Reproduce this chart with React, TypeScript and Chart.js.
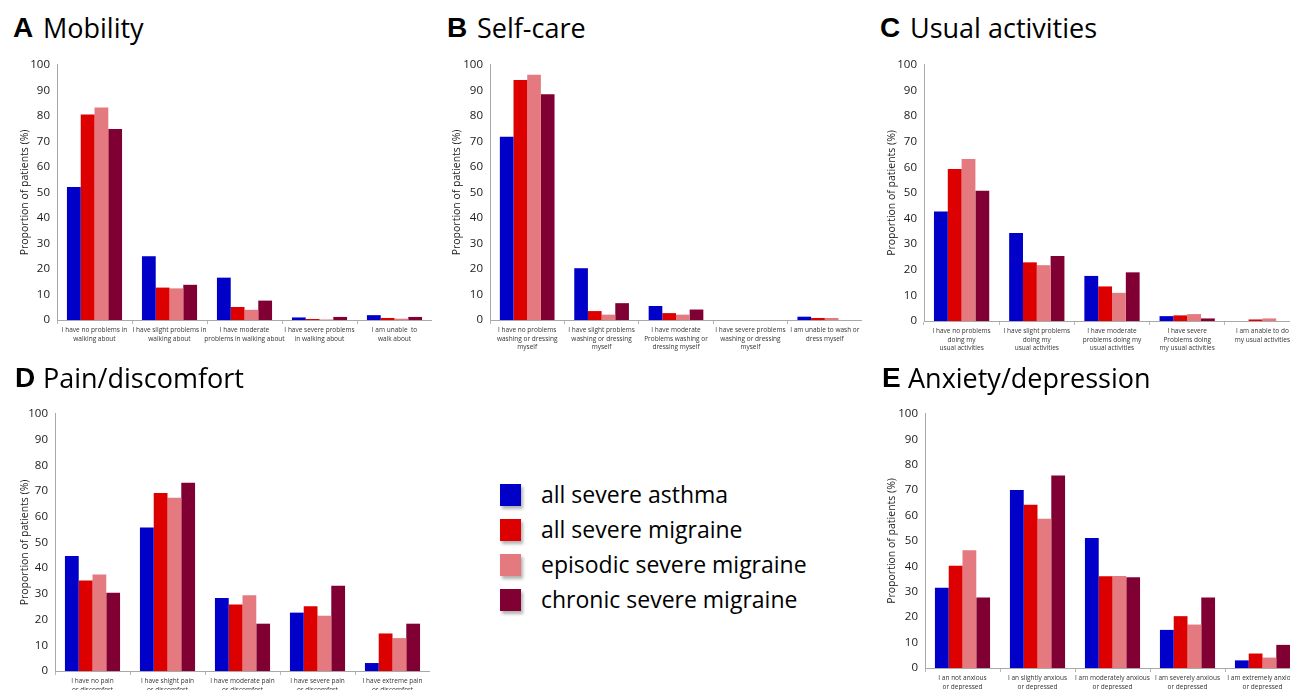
import React, { useEffect, useRef } from "react";
import { Chart, registerables } from "chart.js";

Chart.register(...registerables);
Chart.defaults.font.family = "'Open Sans', sans-serif";

// ---- Series ----
const seriesNames = [
  "all severe asthma",
  "all severe migraine",
  "episodic severe migraine",
  "chronic severe migraine",
];
const seriesColors = ["#0000C8", "#DC0000", "#E47A80", "#800033"];

// ---- A Mobility ----
const mobilityLabels = [
  ["I have no problems in", "walking about"],
  ["I have slight problems in", "walking about"],
  ["I have moderate", "problems in walking about"],
  ["I have severe problems", "in walking about"],
  ["I am unable  to", "walk about"],
];
const mobilityAsthma = [52.1, 25.0, 16.6, 1.0, 1.9];
const mobilityAllMigraine = [80.6, 12.7, 5.1, 0.4, 0.8];
const mobilityEpisodic = [83.3, 12.4, 4.0, 0.2, 0.5];
const mobilityChronic = [74.9, 13.8, 7.6, 1.2, 1.2];

// ---- B Self-care ----
const selfCareLabels = [
  ["I have no problems", "washing or dressing", "myself"],
  ["I have slight problems", "washing or dressing", "myself"],
  ["I have moderate", "Problems washing or", "dressing myself"],
  ["I have severe problems", "washing or dressing", "myself"],
  ["I am unable to wash or", "dress myself"],
];
const selfCareAsthma = [71.8, 20.3, 5.5, 0, 1.3];
const selfCareAllMigraine = [94.1, 3.5, 2.7, 0, 0.8];
const selfCareEpisodic = [96.1, 2.1, 2.1, 0, 0.8];
const selfCareChronic = [88.5, 6.6, 4.1, 0, 0];

// ---- C Usual activities ----
const usualLabels = [
  ["I have no problems", "doing my", "usual activities"],
  ["I have slight problems", "doing my", "usual activities"],
  ["I have moderate", "problems doing my", "usual activities"],
  ["I have severe", "Problems doing", "my usual activities"],
  ["I am anable to do", "my usual activities"],
];
const usualAsthma = [42.8, 34.4, 17.6, 1.9, 0];
const usualAllMigraine = [59.4, 22.9, 13.5, 2.2, 0.6];
const usualEpisodic = [63.3, 21.8, 11.0, 2.7, 1.0];
const usualChronic = [50.9, 25.4, 19.0, 1.0, 0];

// ---- D Pain/discomfort ----
const painLabels = [
  ["I have no pain", "or discomfort"],
  ["I have shight pain", "or discomfort"],
  ["I have moderate pain", "or discomfort"],
  ["I have severe pain", "or discomfort"],
  ["I have extreme pain", "or discomfort"],
];
const painAsthma = [44.7, 55.8, 28.4, 22.7, 3.1];
const painAllMigraine = [35.2, 69.2, 25.9, 25.2, 14.6];
const painEpisodic = [37.5, 67.4, 29.5, 21.5, 12.8];
const painChronic = [30.4, 73.2, 18.4, 33.2, 18.4];

// ---- E Anxiety/depression ----
const anxietyLabels = [
  ["I an not anxious", "or depressed"],
  ["I an slightly anxious", "or depressed"],
  ["I am moderately anxious", "or depressed"],
  ["I am severely anxious", "or depressed"],
  ["I am extremely anxious", "or depressed"],
];
const anxietyAsthma = [31.6, 70.1, 51.2, 15.0, 3.0];
const anxietyAllMigraine = [40.2, 64.2, 36.1, 20.4, 5.7];
const anxietyEpisodic = [46.3, 58.7, 36.2, 17.1, 4.1];
const anxietyChronic = [27.7, 75.8, 35.7, 27.7, 9.1];

const yAxisTitle = "Proportion of patients (%)";

type PanelCfg = {
  letter: string;
  title: string;
  labels: string[][];
  series: number[][];
  left: number;
  axisX: number;
  top: number;
  bottom: number;
  right: number;
  yTitleCenter: number;
  letterX: number;
  titleX: number;
  baseline: number;
};

const PAD_TOP = 10;
const X_AXIS_H = 44;

function BarPanel({ cfg }: { cfg: PanelCfg }) {
  const ref = useRef<HTMLCanvasElement>(null);
  useEffect(() => {
    if (!ref.current) return;
    const titleLH = 10.5 * 1.2;
    const chart = new Chart(ref.current, {
      type: "bar",
      data: {
        labels: cfg.labels,
        datasets: cfg.series.map((d, i) => ({
          label: seriesNames[i],
          data: d,
          backgroundColor: seriesColors[i],
          borderWidth: 0,
          categoryPercentage: 0.735,
          barPercentage: 1,
        })),
      },
      options: {
        responsive: false,
        animation: false,
        events: [],
        layout: { padding: { top: PAD_TOP, left: 0, right: 0, bottom: 0 } },
        plugins: { legend: { display: false }, tooltip: { enabled: false } },
        scales: {
          x: {
            grid: {
              display: true,
              drawOnChartArea: false,
              drawTicks: true,
              tickLength: 4,
              color: "#b8b8b8",
              offset: true,
            },
            border: { display: true, color: "#a8a8a8", width: 1 },
            ticks: {
              autoSkip: false,
              maxRotation: 0,
              minRotation: 0,
              font: { size: 6.5, lineHeight: 1.3 },
              color: "#333",
              padding: 2,
            },
            afterFit: (s: any) => {
              s.height = X_AXIS_H;
            },
          },
          y: {
            min: 0,
            max: 100,
            ticks: {
              stepSize: 10,
              font: { size: 11.5 },
              color: "#1a1a1a",
              padding: 7,
            },
            grid: { display: false, drawTicks: false },
            border: { display: true, color: "#a8a8a8", width: 1 },
            title: {
              display: true,
              text: yAxisTitle,
              font: { size: 10.5 },
              color: "#1a1a1a",
              padding: { top: cfg.yTitleCenter - cfg.left - titleLH / 2, bottom: 0 },
            },
            afterFit: (s: any) => {
              s.width = cfg.axisX - cfg.left;
            },
          },
        },
      },
    } as any);
    return () => chart.destroy();
  }, [cfg]);
  const h = PAD_TOP + (cfg.bottom - cfg.top) + X_AXIS_H;
  return (
    <>
      <canvas
        ref={ref}
        width={cfg.right - cfg.left}
        height={h}
        style={{
          position: "absolute",
          left: cfg.left,
          top: cfg.top - PAD_TOP,
          width: cfg.right - cfg.left,
          height: h,
        }}
      />
      <span
        style={{
          position: "absolute",
          left: cfg.letterX,
          top: cfg.baseline - 23.7,
          fontFamily: "'Liberation Sans', Arial, sans-serif",
          fontWeight: "bold",
          fontSize: 28,
          lineHeight: "28px",
          color: "#000",
          whiteSpace: "nowrap",
        }}
      >
        {cfg.letter}
      </span>
      <span
        style={{
          position: "absolute",
          left: cfg.titleX,
          top: cfg.baseline - 24,
          fontFamily: "'Open Sans', sans-serif",
          fontSize: 27,
          lineHeight: "27px",
          color: "#000",
          whiteSpace: "nowrap",
        }}
      >
        {cfg.title}
      </span>
    </>
  );
}

const panels: PanelCfg[] = [
  {
    letter: "A",
    title: "Mobility",
    labels: mobilityLabels,
    series: [mobilityAsthma, mobilityAllMigraine, mobilityEpisodic, mobilityChronic],
    left: 0, axisX: 57, top: 61, bottom: 320, right: 432,
    yTitleCenter: 25, letterX: 13, titleX: 43, baseline: 38,
  },
  {
    letter: "B",
    title: "Self-care",
    labels: selfCareLabels,
    series: [selfCareAsthma, selfCareAllMigraine, selfCareEpisodic, selfCareChronic],
    left: 430, axisX: 490, top: 61, bottom: 320, right: 862,
    yTitleCenter: 457, letterX: 447, titleX: 477, baseline: 38,
  },
  {
    letter: "C",
    title: "Usual activities",
    labels: usualLabels,
    series: [usualAsthma, usualAllMigraine, usualEpisodic, usualChronic],
    left: 860, axisX: 924, top: 61, bottom: 321, right: 1300,
    yTitleCenter: 892, letterX: 880, titleX: 910, baseline: 38,
  },
  {
    letter: "D",
    title: "Pain/discomfort",
    labels: painLabels,
    series: [painAsthma, painAllMigraine, painEpisodic, painChronic],
    left: 0, axisX: 55, top: 410, bottom: 671, right: 430,
    yTitleCenter: 25, letterX: 15, titleX: 43, baseline: 388,
  },
  {
    letter: "E",
    title: "Anxiety/depression",
    labels: anxietyLabels,
    series: [anxietyAsthma, anxietyAllMigraine, anxietyEpisodic, anxietyChronic],
    left: 860, axisX: 925, top: 410, bottom: 668, right: 1300,
    yTitleCenter: 892, letterX: 882, titleX: 908, baseline: 388,
  },
];

function Legend() {
  return (
    <>
      {seriesNames.map((name, i) => (
        <React.Fragment key={name}>
          <div
            style={{
              position: "absolute",
              left: 500,
              top: 484 + i * 35,
              width: 21,
              height: 22,
              background: seriesColors[i],
              boxShadow: "2px 3px 3px rgba(0,0,0,0.3)",
            }}
          />
          <span
            style={{
              position: "absolute",
              left: 541,
              top: 479 + i * 35,
              fontFamily: "'Open Sans', sans-serif",
              fontSize: 23,
              lineHeight: "30px",
              color: "#000",
              whiteSpace: "nowrap",
            }}
          >
            {name}
          </span>
        </React.Fragment>
      ))}
    </>
  );
}

export default function App() {
  return (
    <div
      style={{
        position: "fixed",
        left: 0,
        top: 0,
        width: 1290,
        height: 690,
        overflow: "hidden",
        background: "#fff",
      }}
    >
      {panels.map((p) => (
        <BarPanel key={p.letter} cfg={p} />
      ))}
      <Legend />
    </div>
  );
}
